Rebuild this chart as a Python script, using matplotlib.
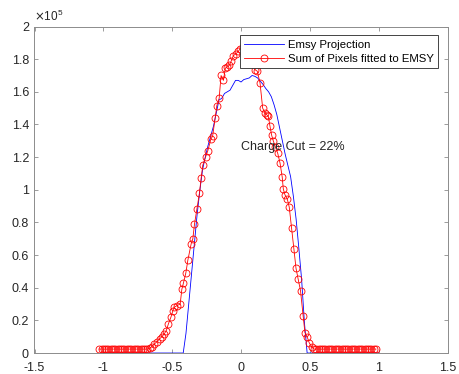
import matplotlib
matplotlib.use('Agg')
import matplotlib.pyplot as plt
from matplotlib.ticker import FuncFormatter
import numpy as np

plt.rcParams['font.family'] = ['Liberation Sans', 'DejaVu Sans']

# Emsy projection (x in mm, counts in units of 1e5)
emsy_x = [-1.00, -0.98, -0.96, -0.94, -0.92, -0.90, -0.88, -0.86, -0.84, -0.82,
          -0.80, -0.78, -0.76, -0.74, -0.72, -0.70, -0.68, -0.66, -0.64, -0.62,
          -0.60, -0.58, -0.56, -0.54, -0.52, -0.50, -0.48, -0.46, -0.44, -0.42,
          -0.40, -0.38, -0.36, -0.34, -0.32, -0.30, -0.28, -0.26, -0.24, -0.22,
          -0.20, -0.18, -0.16, -0.14, -0.12, -0.10, -0.08, -0.06, -0.04, -0.02,
          0.00, 0.02, 0.04, 0.06, 0.08, 0.10, 0.12, 0.14, 0.16, 0.18,
          0.20, 0.22, 0.24, 0.26, 0.28, 0.30, 0.32, 0.34, 0.36, 0.38,
          0.40, 0.42, 0.44, 0.46, 0.48, 0.50, 0.52, 0.54, 0.56, 0.58,
          0.60, 0.62, 0.64, 0.66, 0.68, 0.70, 0.72, 0.74, 0.76, 0.78,
          0.80, 0.82, 0.84, 0.86, 0.88, 0.90, 0.92, 0.94, 0.96, 0.98, 1.00]
emsy_y = [0, 0, 0, 0, 0, 0, 0, 0, 0, 0,
          0, 0, 0, 0, 0, 0, 0, 0, 0, 0,
          0, 0, 0, 0, 0, 0, 0, 0, 0, 0,
          0.12, 0.30, 0.48, 0.66, 0.84, 0.99, 1.12, 1.20, 1.27, 1.33,
          1.39, 1.47, 1.55, 1.56, 1.59, 1.60, 1.61, 1.64, 1.67, 1.67,
          1.66, 1.675, 1.68, 1.685, 1.70, 1.695, 1.685, 1.665, 1.645, 1.62,
          1.60, 1.57, 1.52, 1.46, 1.38, 1.30, 1.22, 1.15, 1.08, 0.96,
          0.82, 0.64, 0.45, 0.19, 0.0, 0, 0, 0, 0, 0,
          0, 0, 0, 0, 0, 0, 0, 0, 0, 0,
          0, 0, 0, 0, 0, 0, 0, 0, 0, 0, 0]

# summed pixel profile fitted to EMSY
pix_x = [-1.03, -1.013, -0.997, -0.98, -0.963, -0.947, -0.93, -0.913, -0.897, -0.88,
         -0.863, -0.847, -0.83, -0.813, -0.797, -0.78, -0.763, -0.747, -0.73, -0.713,
         -0.697, -0.68, -0.663, -0.647, -0.630, -0.611, -0.592, -0.575, -0.558, -0.543,
         -0.527, -0.509, -0.495, -0.486, -0.466, -0.442, -0.430, -0.418, -0.401, -0.386,
         -0.362, -0.35, -0.338, -0.321, -0.302, -0.29, -0.278, -0.258, -0.241, -0.219,
         -0.206, -0.188, -0.176, -0.159, -0.145, -0.128, -0.114, -0.099, -0.085, -0.072,
         -0.056, -0.038, -0.019, -0.007, 0.012, 0.029, 0.045, 0.062, 0.078, 0.09,
         0.101, 0.118, 0.138, 0.157, 0.174, 0.186, 0.198, 0.21, 0.222, 0.234,
         0.25, 0.266, 0.283, 0.299, 0.307, 0.319, 0.336, 0.350, 0.367, 0.384,
         0.399, 0.415, 0.432, 0.451, 0.464, 0.48, 0.495, 0.512, 0.53, 0.547,
         0.563, 0.58, 0.597, 0.613, 0.63, 0.647, 0.663, 0.68, 0.697, 0.713,
         0.73, 0.747, 0.763, 0.78, 0.797, 0.813, 0.83, 0.847, 0.863, 0.88,
         0.897, 0.913, 0.93, 0.947, 0.963, 0.98]
pix_y = [0.024, 0.024, 0.024, 0.024, 0.024, 0.024, 0.024, 0.024, 0.024, 0.024,
         0.024, 0.024, 0.024, 0.024, 0.024, 0.024, 0.024, 0.024, 0.024, 0.024,
         0.024, 0.024, 0.030, 0.039, 0.055, 0.069, 0.086, 0.100, 0.117, 0.137,
         0.18, 0.22, 0.26, 0.28, 0.29, 0.30, 0.39, 0.43, 0.49, 0.57,
         0.67, 0.70, 0.79, 0.88, 0.98, 1.07, 1.15, 1.20, 1.24, 1.31,
         1.33, 1.44, 1.515, 1.56, 1.70, 1.67, 1.745, 1.753, 1.763, 1.787,
         1.822, 1.832, 1.849, 1.863, 1.873, 1.88, 1.87, 1.86, 1.83, 1.78,
         1.736, 1.726, 1.654, 1.50, 1.47, 1.46, 1.45, 1.39, 1.335, 1.30,
         1.26, 1.225, 1.164, 1.078, 1.004, 0.969, 0.943, 0.894, 0.765, 0.636,
         0.52, 0.452, 0.382, 0.227, 0.125, 0.10, 0.063, 0.039, 0.024, 0.024,
         0.024, 0.024, 0.024, 0.024, 0.024, 0.024, 0.024, 0.024, 0.024, 0.024,
         0.024, 0.024, 0.024, 0.024, 0.024, 0.024, 0.024, 0.024, 0.024, 0.024,
         0.024, 0.024, 0.024, 0.024, 0.024, 0.024]

charge_cut = 22
scale = 1e5

fig = plt.figure(figsize=(4.6, 3.74), dpi=100)
ax = fig.add_axes([0.075, 0.0561, 0.898, 0.873])

ax.plot(emsy_x, np.array(emsy_y) * scale, color='b', lw=0.6, label='Emsy Projection')
ax.plot(pix_x, np.array(pix_y) * scale, color='r', lw=0.6, marker='o', ms=5,
        mfc='none', mec='r', mew=0.6, label='Sum of Pixels fitted to EMSY')

ax.text(0, 1.265 * scale, 'Charge Cut = %d%%' % charge_cut, fontsize=9,
        color='#262626', va='center', ha='left')

ax.set_xlim(-1.5, 1.5)
ax.set_ylim(0, 2 * scale)
ax.set_xticks(np.arange(-1.5, 1.51, 0.5))
ax.set_yticks(np.arange(0, 2.01, 0.2) * scale)
ax.xaxis.set_major_formatter(FuncFormatter(lambda v, p: '%g' % round(v, 2)))
ax.yaxis.set_major_formatter(FuncFormatter(lambda v, p: '%g' % round(v / scale, 2)))
ax.tick_params(direction='in', top=True, right=True, length=3, width=0.6,
               color='#8c8c8c', labelsize=9, labelcolor='#262626', pad=4)
ax.tick_params(axis='x', pad=6.5)
for s in ax.spines.values():
    s.set_color('#8c8c8c')
    s.set_linewidth(0.7)

# exponent label in the top-left corner
ax.text(0.0, 1.008, r'$\times\mathdefault{10^{5}}$', transform=ax.transAxes,
        fontsize=8.5, color='#262626', ha='left', va='bottom')

leg = ax.legend(loc='upper right', bbox_to_anchor=(0.977, 0.974), borderaxespad=0,
                fontsize=8.2, fancybox=False, framealpha=1, edgecolor='#262626',
                handlelength=3.5, handletextpad=0.3, borderpad=0.4, labelspacing=0.35)
leg.get_frame().set_linewidth(0.6)

fig.savefig('out.png', dpi=100)
